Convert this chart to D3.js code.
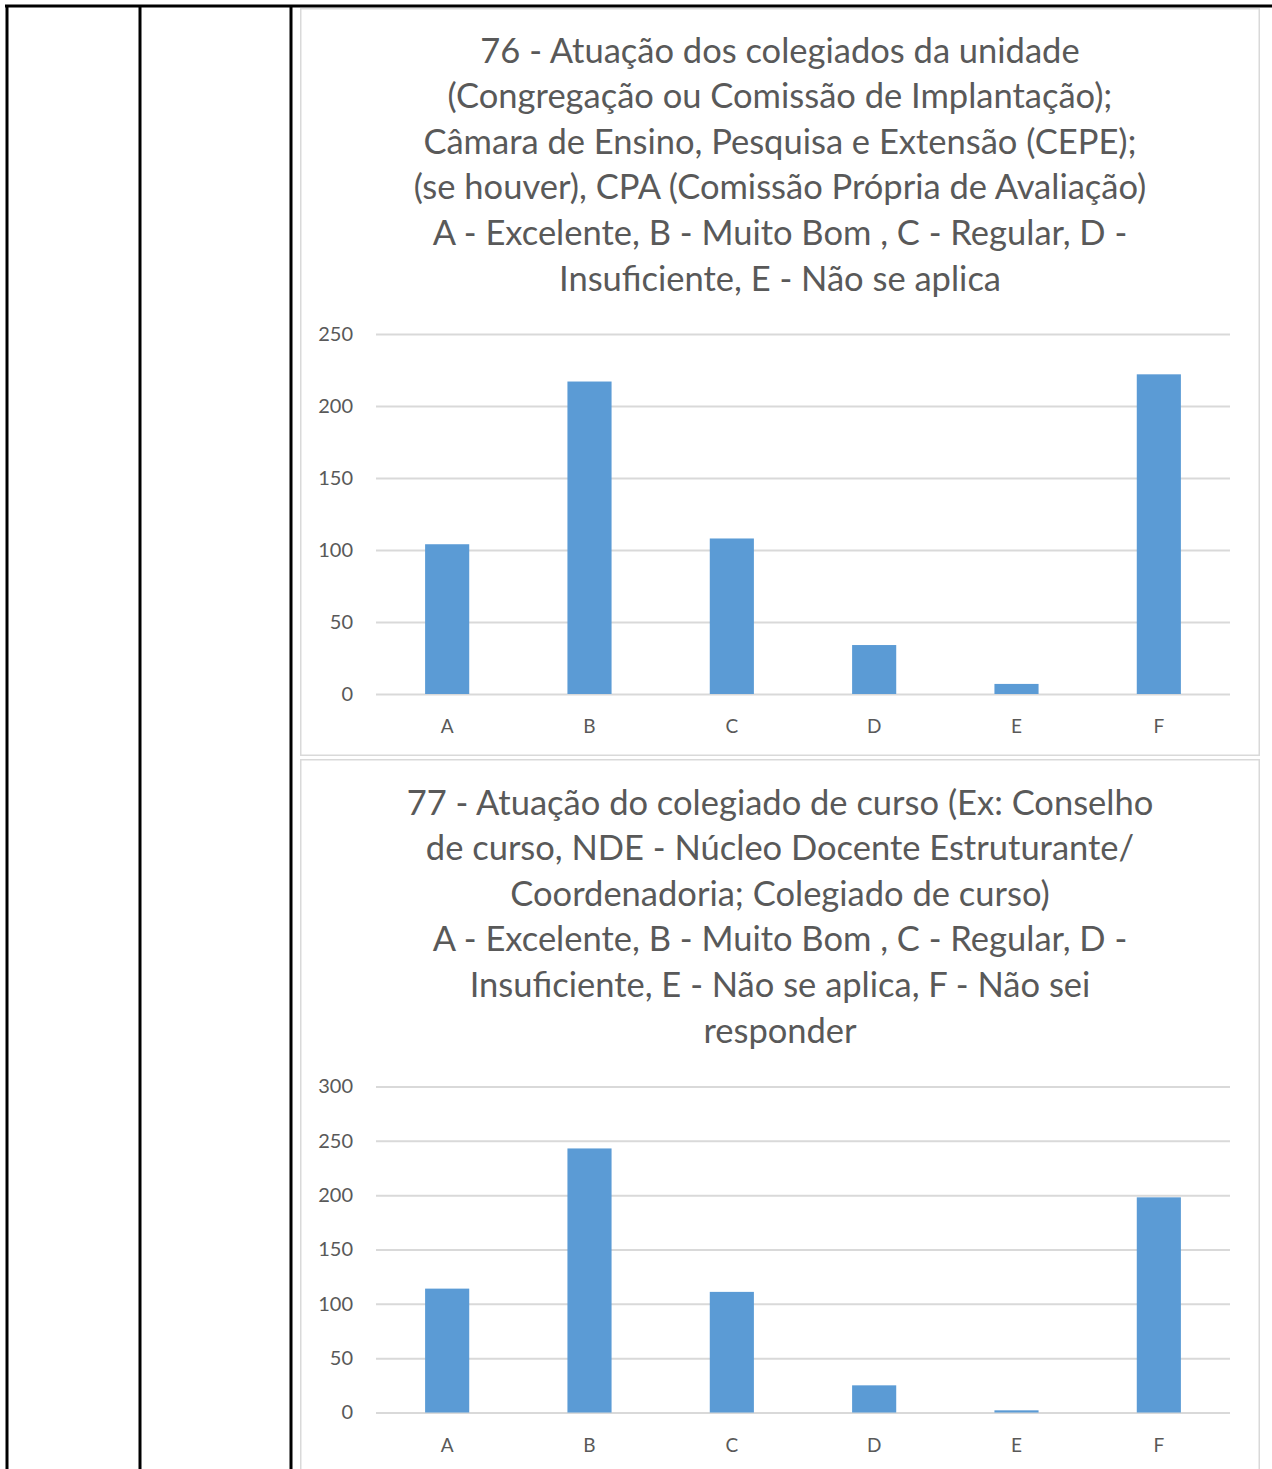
<!DOCTYPE html>
<html>
<head>
<meta charset="utf-8">
<script src="https://cdn.jsdelivr.net/npm/d3@7"></script>
<style>
  html, body { margin: 0; padding: 0; background: #fff; }
  svg { display: block; }
</style>
</head>
<body>
<svg id="chart" width="1272" height="1469"></svg>
<script>
// ---------- data ----------
const categories = ["A", "B", "C", "D", "E", "F"];
const values76 = [104, 217, 108, 34, 7, 222];
const values77 = [114, 243, 111, 25, 2, 198];
const ticks76 = [0, 50, 100, 150, 200, 250];
const ticks77 = [0, 50, 100, 150, 200, 250, 300];
const title76 = [
  "76 - Atuação dos colegiados da unidade",
  "(Congregação ou Comissão de Implantação);",
  "Câmara de Ensino, Pesquisa e Extensão (CEPE);",
  "(se houver), CPA (Comissão Própria de Avaliação)",
  "A - Excelente, B - Muito Bom , C - Regular, D -",
  "Insuficiente, E - Não se aplica"
];
const title77 = [
  "77 - Atuação do colegiado de curso (Ex: Conselho",
  "de curso, NDE - Núcleo Docente Estruturante/",
  "Coordenadoria; Colegiado de curso)",
  "A - Excelente, B - Muito Bom , C - Regular, D -",
  "Insuficiente, E - Não se aplica, F - Não sei",
  "responder"
];

// ---------- styles ----------
const FONT = "Lato, 'Open Sans', sans-serif";
const TEXT = "#595959";
const GRID = "#d9d9d9";
const BAR = "#5b9bd5";

const svg = d3.select("#chart");

// table frame
const table = svg.append("g");
table.append("line").attr("x1", 5).attr("x2", 1272).attr("y1", 6).attr("y2", 6)
  .attr("stroke", "#000").attr("stroke-width", 3);
[7, 140, 291].forEach(x => {
  table.append("line").attr("x1", x).attr("x2", x).attr("y1", 5).attr("y2", 1469)
    .attr("stroke", "#000").attr("stroke-width", 3);
});

function drawChart(cfg) {
  const g = svg.append("g");
  // chart box
  g.append("rect")
    .attr("x", 300.75).attr("y", cfg.boxTop)
    .attr("width", 958.5).attr("height", cfg.boxH)
    .attr("fill", "#fff").attr("stroke", GRID).attr("stroke-width", 1.5);

  // title
  const t = g.append("text")
    .attr("text-anchor", "middle")
    .attr("font-family", FONT)
    .attr("font-size", cfg.titleSize)
    .attr("fill", TEXT);
  cfg.title.forEach((line, i) => {
    t.append("tspan").attr("x", 780).attr("y", cfg.titleBase + i * 45.6).text(line);
  });

  const x = d3.scaleBand().domain(categories).range([376, 1230]).padding(0);
  const y = d3.scaleLinear().domain([0, cfg.max]).range([cfg.y0, cfg.yTop]);

  // y axis with gridlines
  const ya = g.append("g").attr("transform", "translate(376,0)")
    .call(d3.axisLeft(y).tickValues(cfg.ticks).tickSize(-(1230 - 376)).tickPadding(23).tickFormat(d3.format("d")));
  ya.select(".domain").remove();
  ya.selectAll(".tick line").attr("stroke", GRID).attr("stroke-width", 2);
  ya.selectAll(".tick text").attr("font-family", FONT).attr("font-size", 20).attr("fill", TEXT);

  // bars
  const bw = x.bandwidth() * 0.31;
  g.selectAll("rect.bar").data(cfg.values).join("rect")
    .attr("class", "bar")
    .attr("x", (d, i) => x(categories[i]) + x.bandwidth() / 2 - bw / 2)
    .attr("width", bw)
    .attr("y", d => y(d))
    .attr("height", d => y(0) - y(d))
    .attr("fill", BAR);

  // x labels
  g.selectAll("text.cat").data(categories).join("text")
    .attr("class", "cat")
    .attr("x", d => x(d) + x.bandwidth() / 2)
    .attr("y", cfg.y0 + 39)
    .attr("text-anchor", "middle")
    .attr("font-family", FONT).attr("font-size", 19).attr("fill", TEXT)
    .text(d => d);
}

drawChart({
  boxTop: 8.75, boxH: 746.5, title: title76, titleBase: 62.5, titleSize: 34.5,
  values: values76, ticks: ticks76, max: 250, y0: 694, yTop: 334
});
drawChart({
  boxTop: 759.75, boxH: 760, title: title77, titleBase: 814.5, titleSize: 34.5,
  values: values77, ticks: ticks77, max: 300, y0: 1412.5, yTop: 1086.5
});
</script>
</body>
</html>
